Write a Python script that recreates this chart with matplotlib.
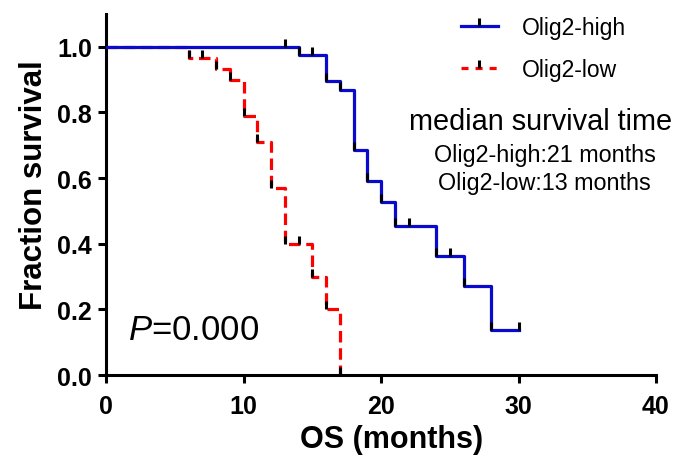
import matplotlib.pyplot as plt
from matplotlib.lines import Line2D
from matplotlib.path import Path
from matplotlib.legend_handler import HandlerTuple

plt.rcParams["font.family"] = ["Liberation Sans", "DejaVu Sans"]
plt.rcParams["mathtext.fontset"] = "custom"
plt.rcParams["mathtext.rm"] = "Liberation Sans"
plt.rcParams["mathtext.it"] = "Liberation Sans:italic"

# Kaplan-Meier steps
high_times = [0, 14, 16, 17, 18, 19, 20, 21, 24, 26, 28, 30]
high_surv = [1.0, 0.975, 0.897, 0.868, 0.686, 0.59, 0.527, 0.455, 0.363, 0.27, 0.136, 0.136]
high_cens_t = [13, 15, 22, 25, 30]
high_cens_s = [1.0, 0.975, 0.455, 0.363, 0.136]

low_times = [0, 6, 8, 9, 10, 11, 12, 13, 15, 16, 17]
low_surv = [1.0, 0.966, 0.933, 0.898, 0.79, 0.71, 0.57, 0.40, 0.30, 0.20, 0.0]
low_cens_t = [7, 14]
low_cens_s = [0.966, 0.40]

x_ticks = [0, 10, 20, 30, 40]
y_ticks = [0.0, 0.2, 0.4, 0.6, 0.8, 1.0]

BLUE = "#0a0acc"
RED = "#ff0000"

# upward tick, like the censor marks in Prism
tick = Path([(0, 0), (0, 1)])

fig = plt.figure(figsize=(6.78, 4.6), dpi=100)
ax = fig.add_axes([106 / 678, 1 - 376 / 460, 550 / 678, 361 / 460])

ax.step(low_times, low_surv, where="post", color=RED, lw=2.3,
        linestyle=(0, (3.6, 1.8)), zorder=2)
ax.step(high_times, high_surv, where="post", color=BLUE, lw=2.3, zorder=3)

# black ticks: one at the foot of each drop, plus the censored points
for times, surv, ct, cs in [(high_times, high_surv, high_cens_t, high_cens_s),
                            (low_times, low_surv, low_cens_t, low_cens_s)]:
    drops = [i for i in range(1, len(surv)) if surv[i] < surv[i - 1]]
    tx = [times[i] for i in drops] + ct
    ty = [surv[i] for i in drops] + cs
    ax.plot(tx, ty, linestyle="none", marker=tick, markersize=11,
            markeredgewidth=2.2, color="black", zorder=4)

ax.set_xlim(0, 40)
ax.set_ylim(0, 1.1)
ax.set_xticks(x_ticks)
ax.set_yticks(y_ticks)
ax.set_xticklabels([str(v) for v in x_ticks], fontsize=18, fontweight="bold")
ax.set_yticklabels([f"{v:.1f}" for v in y_ticks], fontsize=18, fontweight="bold")
ax.tick_params(direction="out", length=6, width=2.2, pad=4)
ax.tick_params(axis="x", pad=8)
for side in ["top", "right"]:
    ax.spines[side].set_visible(False)
for side in ["left", "bottom"]:
    ax.spines[side].set_linewidth(2.2)

ax.set_xlabel("OS (months)", fontsize=22, fontweight="bold", labelpad=4)
ax.set_ylabel("Fraction survival", fontsize=22.5, fontweight="bold", labelpad=6)
ax.xaxis.label.set_x(0.519)
ax.yaxis.label.set_y(0.529)

h_high = (Line2D([], [], color=BLUE, lw=2.3),
          Line2D([], [], linestyle="none", marker=tick, markersize=11,
                 markeredgewidth=2.2, color="black"))
h_low = (Line2D([], [], color=RED, lw=2.3, linestyle=(0, (2.2, 2.2))),
         Line2D([], [], linestyle="none", marker=tick, markersize=11,
                markeredgewidth=2.2, color="black"))
fig.legend([h_high, h_low], ["Olig2-high", "Olig2-low"],
           handler_map={tuple: HandlerTuple(ndivide=1)},
           loc="upper left", bbox_to_anchor=(461 / 678, 1 - 17 / 460),
           frameon=False, fontsize=16.5, handlelength=1.6, labelspacing=0.85,
           borderpad=0, borderaxespad=0, handletextpad=1.05)

ax.text(31.6, 0.75, "median survival time", fontsize=20.8, ha="center", va="baseline")
ax.text(31.9, 0.653, "Olig2-high:21 months", fontsize=16.8, ha="center", va="baseline")
ax.text(31.85, 0.567, "Olig2-low:13 months", fontsize=16.8, ha="center", va="baseline")
ax.text(1.6, 0.14, r"$\mathit{P}$=0.000", fontsize=25, ha="left", va="center")

fig.savefig("out.png", dpi=100)
